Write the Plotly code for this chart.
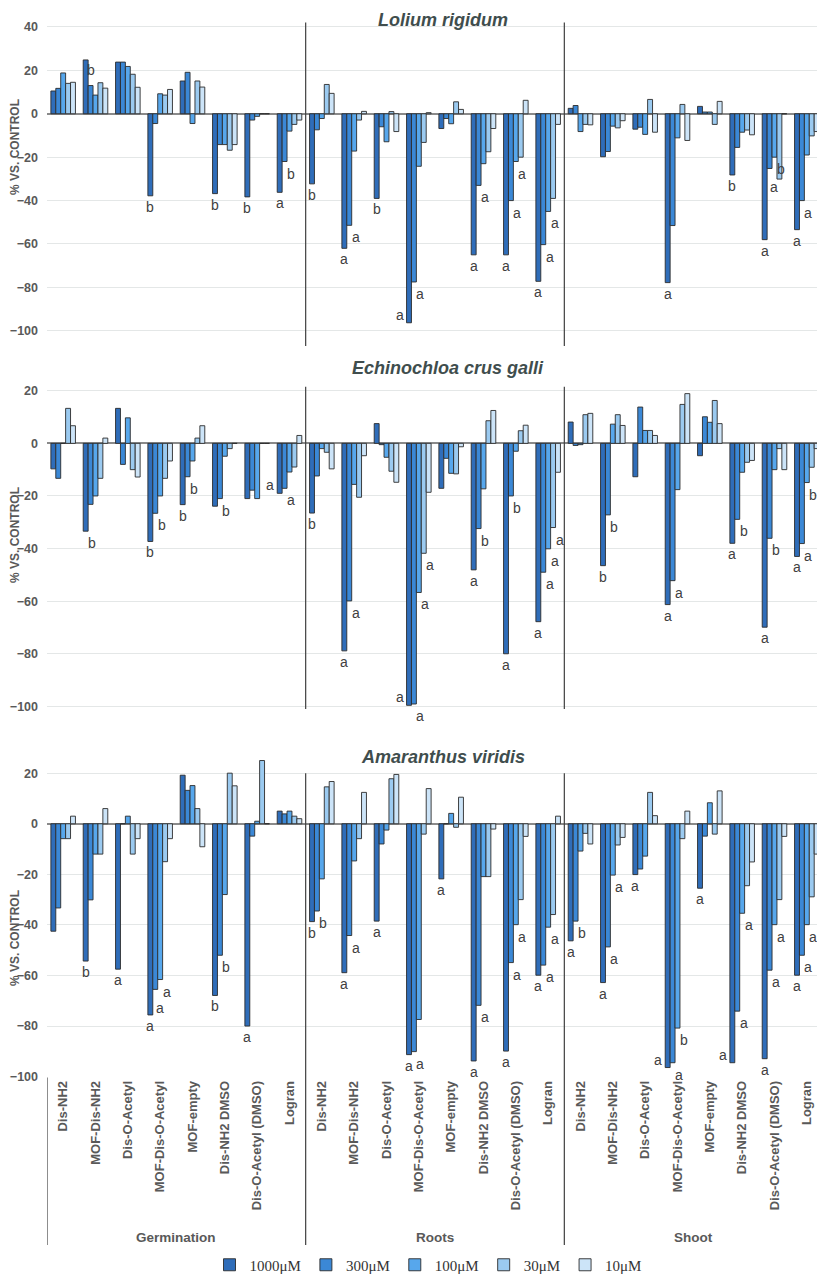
"""Grouped bar panels: % vs. control for three weed species."""

import plotly.graph_objects as go

# the page body adds an 8 px margin around the figure
PAGE_OFFSET = 8
FIG_W = 825 - PAGE_OFFSET
FIG_H = 1275 - PAGE_OFFSET
LEFT_PX = 47
RIGHT_PX = 823

COMPOUNDS = [
    "Dis-NH2",
    "MOF-Dis-NH2",
    "Dis-O-Acetyl",
    "MOF-Dis-O-Acetyl",
    "MOF-empty",
    "Dis-NH2 DMSO",
    "Dis-O-Acetyl (DMSO)",
    "Logran",
]
SECTIONS = ["Germination", "Roots", "Shoot"]
SERIES = ["1000μM", "300μM", "100μM", "30μM", "10μM"]
SPECIES = ["Lolium rigidum", "Echinochloa crus galli", "Amaranthus viridis"]

# values per concentration, 24 entries: 8 compounds x (Germination, Roots, Shoot)
LOLIUM_1000 = [10.5, 24.8, 23.8, -37.8, 15.1, -36.8, -38.3, -36.2,
               -32.3, -62.0, -39.0, -96.3, -6.8, -65.0, -65.0, -77.2,
               2.5, -19.8, -7.1, -77.8, 3.4, -28.2, -58.0, -53.4]
LOLIUM_300 = [11.7, 13.0, 23.8, -4.5, 19.1, -14.2, -2.9, -22.0,
              -7.4, -51.4, -6.0, -77.5, -2.2, -33.0, -40.0, -60.3,
              3.8, -17.4, -6.2, -51.5, 0.8, -15.5, -25.2, -40.0]
LOLIUM_100 = [18.8, 8.6, 21.8, 9.2, -4.5, -14.2, -1.2, -8.0,
              -2.2, -17.2, -12.9, -24.2, -4.6, -23.0, -22.0, -45.0,
              -8.2, -5.7, -9.5, -11.1, 0.8, -8.5, -20.0, -19.0]
LOLIUM_30 = [14.0, 14.3, 18.2, 8.6, 15.1, -16.8, 0, -4.9,
             13.5, -2.9, 1.0, -13.2, 5.5, -17.5, -20.0, -39.0,
             -4.9, -6.5, 6.6, 4.3, -4.9, -7.5, -30.1, -10.2]
LOLIUM_10 = [14.5, 11.8, 12.2, 11.2, 12.3, -14.2, 0, -2.9,
             9.4, 1.1, -8.2, 0.5, 2.0, -6.8, 6.2, -4.9,
             -5.1, -3.2, -8.5, -12.3, 5.7, -9.7, 0, -8.2]

ECHINO_1000 = [-9.7, -33.4, 13.3, -37.3, -23.3, -23.9, -21.0, -19.0,
               -26.5, -78.9, 7.5, -99.6, -17.1, -48.1, -80.0, -67.8,
               8.1, -46.5, -12.7, -61.3, -4.7, -38.0, -69.9, -43.0]
ECHINO_300 = [-13.3, -23.2, -8.0, -26.6, -12.7, -21.0, -17.8, -17.1,
              -12.4, -59.9, -0.5, -99.1, -5.7, -32.4, -20.0, -49.0,
              -0.8, -27.2, 13.8, -52.2, 10.1, -28.9, -36.1, -38.1]
ECHINO_100 = [0, -20.0, 9.7, -20.0, -6.7, -4.9, -21.0, -10.9,
              -2.0, -15.6, -5.3, -56.7, -11.4, -17.3, -3.0, -40.1,
              -0.5, 7.3, 4.9, -17.6, 8.0, -11.0, -10.0, -14.9]
ECHINO_30 = [13.3, -13.3, -10.0, -13.3, 2.0, -2.0, 0, -9.0,
             -3.4, -20.5, -10.6, -41.8, -11.6, 8.6, 4.8, -32.0,
             10.9, 10.9, 4.9, 14.8, 16.3, -7.2, -2.0, -9.1]
ECHINO_10 = [6.7, 2.0, -12.8, -6.7, 6.7, 0, 0, 3.0,
             -9.7, -4.7, -14.8, -18.6, -1.3, 12.5, 6.9, -11.0,
             11.4, 6.8, 3.0, 18.9, 7.5, -6.5, -10.0, -2.0]

AMARANTH_1000 = [-42.5, -54.3, -57.5, -75.6, 19.2, -67.9, -80.0, 5.0,
                 -38.7, -58.9, -38.5, -91.3, -21.8, -93.8, -89.9, -59.9,
                 -46.3, -62.8, -20.1, -96.4, -25.5, -94.5, -92.9, -59.9]
AMARANTH_300 = [-33.3, -30.1, 0, -65.5, 13.2, -52.0, -4.9, 3.9,
                -34.5, -44.2, -8.0, -90.1, 0, -71.8, -54.9, -55.9,
                -38.5, -48.7, -17.9, -94.5, -4.9, -74.1, -57.9, -52.0]
AMARANTH_100 = [-5.9, -12.0, 3.0, -61.6, 15.1, -28.0, 1.0, 5.0,
                -21.8, -14.7, -2.5, -77.4, 4.1, -20.9, -39.9, -40.9,
                -10.8, -20.3, -12.8, -80.8, 8.3, -35.4, -39.9, -39.9]
AMARANTH_30 = [-5.9, -12.0, -12.0, -15.0, 6.0, 20.0, 25.0, 3.0,
               14.6, -5.9, 17.8, -4.1, -1.4, -20.9, -30.0, -35.9,
               -3.8, -8.4, 12.4, -5.9, -4.1, -24.5, -30.0, -28.9]
AMARANTH_10 = [3.0, 6.0, -5.9, -5.9, -9.1, 15.0, 0, 2.0,
               16.7, 12.4, 19.5, 13.9, 10.5, -2.1, -5.0, 3.0,
               -8.0, -5.4, 3.2, 5.0, 13.0, -15.1, -5.0, -12.0]

# significance letters: (bar group, concentration index, letter, placement)
LOLIUM_LETTERS = [
    (1, 1, "b", "above"), (3, 0, "b", "below"), (5, 0, "b", "below"),
    (6, 0, "b", "below"), (7, 0, "a", "below"), (7, 1, "b", "right"),
    (8, 0, "b", "below"), (9, 0, "a", "below"), (9, 1, "a", "right"),
    (10, 0, "b", "below"), (11, 0, "a", "left"), (11, 1, "a", "right"),
    (13, 0, "a", "below"), (13, 1, "a", "right"), (14, 0, "a", "below"),
    (14, 1, "a", "right"), (14, 2, "a", "right"), (15, 0, "a", "below"),
    (15, 1, "a", "right"), (15, 2, "a", "right"), (19, 0, "a", "below"),
    (21, 0, "b", "below"), (22, 0, "a", "below"), (22, 1, "a", "rightlow"),
    (22, 2, "b", "right"), (23, 0, "a", "below"), (23, 1, "a", "right"),
]
ECHINO_LETTERS = [
    (1, 0, "b", "right"), (3, 0, "b", "below"), (3, 1, "b", "right"),
    (4, 0, "b", "below"), (4, 1, "b", "right"), (5, 1, "b", "right"),
    (7, 0, "a", "left"), (7, 1, "a", "right"),
    (8, 0, "b", "below"), (9, 0, "a", "below"), (9, 1, "a", "right"),
    (11, 0, "a", "left"), (11, 1, "a", "right"), (11, 2, "a", "right"),
    (11, 3, "a", "right"), (13, 0, "a", "below"), (13, 1, "b", "right"),
    (14, 0, "a", "below"), (14, 1, "b", "right"), (15, 0, "a", "below"),
    (15, 1, "a", "right"), (15, 2, "a", "right"), (15, 3, "a", "right"),
    (17, 0, "b", "below"), (17, 1, "b", "right"), (19, 0, "a", "below"),
    (19, 1, "a", "right"), (21, 0, "a", "below"), (21, 1, "b", "right"),
    (22, 0, "a", "below"), (22, 1, "b", "right"), (23, 0, "a", "below"),
    (23, 1, "a", "right"), (23, 2, "b", "right"),
]
AMARANTH_LETTERS = [
    (1, 0, "b", "below"), (2, 0, "a", "below"), (3, 0, "a", "below"),
    (3, 1, "a", "rightlow"), (3, 2, "a", "right"), (5, 0, "b", "below"),
    (5, 1, "b", "right"), (6, 0, "a", "below"),
    (8, 0, "b", "below"), (8, 1, "b", "right"), (9, 0, "a", "below"),
    (9, 1, "a", "right"), (10, 0, "a", "below"), (11, 0, "a", "below"),
    (11, 1, "a", "right"), (12, 0, "a", "below"), (13, 0, "a", "below"),
    (13, 1, "a", "right"), (14, 0, "a", "below"), (14, 1, "a", "right"),
    (14, 2, "a", "right"), (15, 0, "a", "below"), (15, 1, "a", "right"),
    (15, 2, "a", "right"),
    (16, 0, "a", "below"), (16, 1, "b", "right"), (17, 0, "a", "below"),
    (17, 1, "a", "right"), (17, 2, "a", "right"), (18, 0, "a", "below"),
    (19, 0, "a", "left"), (19, 1, "a", "right"), (19, 2, "b", "right"),
    (20, 0, "a", "below"), (21, 0, "a", "left"), (21, 1, "a", "right"),
    (21, 2, "a", "right"), (22, 0, "a", "below"), (22, 1, "a", "right"),
    (22, 2, "a", "right"), (23, 0, "a", "below"), (23, 1, "a", "right"),
    (23, 2, "a", "right"),
]

BAR_COLORS = ["#2F6DB9", "#3B88D6", "#57A7EC", "#9BCAF0", "#CCE4F8"]
BAR_LINE = "#2b2b2b"
TEXT_GRAY = "#595959"
TITLE_COLOR = "#404d4d"
GRID_COLOR = "#e4e7e7"
SEP_COLOR = "#404040"
FONT = "Liberation Sans, Arial, sans-serif"

BARGAP = 0.24
BAR_W = (1 - BARGAP) / len(SERIES)

# panel geometry in page pixels: (top px, bottom px, y range low, y range high)
PANELS = [
    (22.6, 346.0, -107, 42),
    (386.8, 709.0, -101, 21.5),
    (758.0, 1077.4, -100.3, 26),
]
# species title: (centre x, y, vertical anchor)
SPECIES_TITLE_PX = [(443, 8, "top"), (448, 368, "middle"), (443, 757, "middle")]
YTITLE_X_PX = 15
YTITLE_PX = [147, 535, 938]
LABEL_BOTTOM_PX = 1245
SECTION_LABEL_PX = 1237
LEGEND_PX = 1265


def py(px: float) -> float:
    """Page pixel row (from top) to paper y."""
    return 1 - (px - PAGE_OFFSET) / FIG_H


def pxx(px: float) -> float:
    """Page pixel column to paper x."""
    return (px - LEFT_PX) / (RIGHT_PX - LEFT_PX)


panel_data = [
    [LOLIUM_1000, LOLIUM_300, LOLIUM_100, LOLIUM_30, LOLIUM_10],
    [ECHINO_1000, ECHINO_300, ECHINO_100, ECHINO_30, ECHINO_10],
    [AMARANTH_1000, AMARANTH_300, AMARANTH_100, AMARANTH_30, AMARANTH_10],
]
panel_letters = [LOLIUM_LETTERS, ECHINO_LETTERS, AMARANTH_LETTERS]

positions = list(range(len(SECTIONS) * len(COMPOUNDS)))
tick_text = COMPOUNDS * len(SECTIONS)

fig = go.Figure()
annotations = []
shapes = []

for p, series_values in enumerate(panel_data):
    suffix = "" if p == 0 else str(p + 1)
    for s, values in enumerate(series_values):
        fig.add_trace(
            go.Bar(
                x=positions,
                y=values,
                xaxis="x" + suffix,
                yaxis="y" + suffix,
                name=SERIES[s],
                legendgroup=SERIES[s],
                showlegend=p == 0,
                marker=dict(color=BAR_COLORS[s], line=dict(color=BAR_LINE, width=0.9)),
                hoverinfo="x+y+name",
            )
        )

    for group, s, letter, place in panel_letters[p]:
        value = series_values[s][group]
        xc = group + (s - (len(SERIES) - 1) / 2) * BAR_W
        ann = dict(
            xref="x" + suffix,
            yref="y" + suffix,
            y=value,
            text=letter,
            showarrow=False,
            font=dict(family=FONT, size=14, color="#404040"),
        )
        if place == "below":
            ann.update(x=xc, xanchor="center", yanchor="top", yshift=-1)
        elif place == "right":
            ann.update(x=xc + BAR_W / 2, xanchor="left", yanchor="top", xshift=-2, yshift=-2)
        elif place == "rightlow":
            ann.update(x=xc + BAR_W / 2, xanchor="left", yanchor="top", xshift=-4, yshift=-9)
        elif place == "left":
            ann.update(x=xc - BAR_W / 2, xanchor="right", yanchor="bottom", xshift=-1, yshift=-2)
        else:
            ann.update(x=xc, xanchor="center", yanchor="bottom", yshift=6)
        annotations.append(ann)

    top_px, bot_px, lo, hi = PANELS[p]
    xaxis = dict(
        range=[-0.5, len(positions) - 0.5],
        domain=[0, 1],
        automargin=False,
        showgrid=False,
        zeroline=False,
        tickmode="array",
        tickvals=positions,
        ticktext=tick_text,
        showticklabels=p == 2,
        ticks="",
        tickangle=-90,
        tickfont=dict(family=FONT, size=13, color=TEXT_GRAY, weight="bold"),
        anchor="y" + suffix,
    )
    yaxis = dict(
        range=[lo, hi],
        domain=[py(bot_px), py(top_px)],
        automargin=False,
        dtick=20,
        tick0=0,
        showgrid=True,
        gridcolor=GRID_COLOR,
        gridwidth=1,
        zeroline=True,
        zerolinecolor="#8a8a8a",
        zerolinewidth=1.5,
        showline=False,
        ticks="",
        ticklabelstandoff=8,
        tickfont=dict(family=FONT, size=12.5, color=TEXT_GRAY, weight="bold"),
        anchor="x" + suffix,
    )
    fig.update_layout({"xaxis" + suffix: xaxis, "yaxis" + suffix: yaxis})

    # species title and y-axis title
    tx, ty, t_anchor = SPECIES_TITLE_PX[p]
    annotations.append(
        dict(
            xref="paper", yref="paper", x=pxx(tx), y=py(ty),
            text="<b><i>" + SPECIES[p] + "</i></b>",
            showarrow=False, xanchor="center", yanchor=t_anchor,
            font=dict(family=FONT, size=18, color=TITLE_COLOR),
        )
    )
    annotations.append(
        dict(
            xref="paper", yref="paper", x=pxx(YTITLE_X_PX), y=py(YTITLE_PX[p]),
            text="<b>% VS. CONTROL</b>", textangle=-90,
            showarrow=False, xanchor="center", yanchor="middle",
            font=dict(family=FONT, size=12, color=TEXT_GRAY),
        )
    )

    # section separators
    sep_top = top_px
    sep_bot = bot_px
    if p == 2:
        sep_top = top_px + (hi - 20) * (bot_px - top_px) / (hi - lo)
        sep_bot = LABEL_BOTTOM_PX
    for k in range(1, len(SECTIONS)):
        xs = k * len(COMPOUNDS) - 0.5
        shapes.append(
            dict(
                type="line", xref="x" + suffix, yref="paper",
                x0=xs, x1=xs, y0=py(sep_bot), y1=py(sep_top),
                line=dict(color=SEP_COLOR, width=1.2),
            )
        )

# outer boundaries of the category label block
for xs in (-0.5, len(positions) - 0.5):
    shapes.append(
        dict(
            type="line", xref="x3", yref="paper",
            x0=xs, x1=xs, y0=py(LABEL_BOTTOM_PX), y1=py(PANELS[2][1]),
            line=dict(color=SEP_COLOR, width=1.2),
        )
    )

for k, section in enumerate(SECTIONS):
    annotations.append(
        dict(
            xref="x3", yref="paper",
            x=k * len(COMPOUNDS) + (len(COMPOUNDS) - 1) / 2,
            y=py(SECTION_LABEL_PX),
            text="<b>" + section + "</b>",
            showarrow=False, xanchor="center", yanchor="middle",
            font=dict(family=FONT, size=13.5, color=TEXT_GRAY),
        )
    )

fig.update_layout(
    width=FIG_W,
    height=FIG_H,
    margin=dict(
        l=LEFT_PX - PAGE_OFFSET,
        r=FIG_W - (RIGHT_PX - PAGE_OFFSET),
        t=0,
        b=0,
        autoexpand=False,
    ),
    barmode="group",
    bargap=BARGAP,
    bargroupgap=0,
    plot_bgcolor="white",
    paper_bgcolor="white",
    showlegend=True,
    legend=dict(
        orientation="h",
        x=pxx(428),
        y=py(LEGEND_PX),
        xanchor="center",
        yanchor="middle",
        font=dict(family="Liberation Serif, Times New Roman, serif", size=15, color="#333333"),
        itemwidth=30,
        bgcolor="rgba(0,0,0,0)",
    ),
    annotations=annotations,
    shapes=shapes,
)

fig.write_html("out.html")
